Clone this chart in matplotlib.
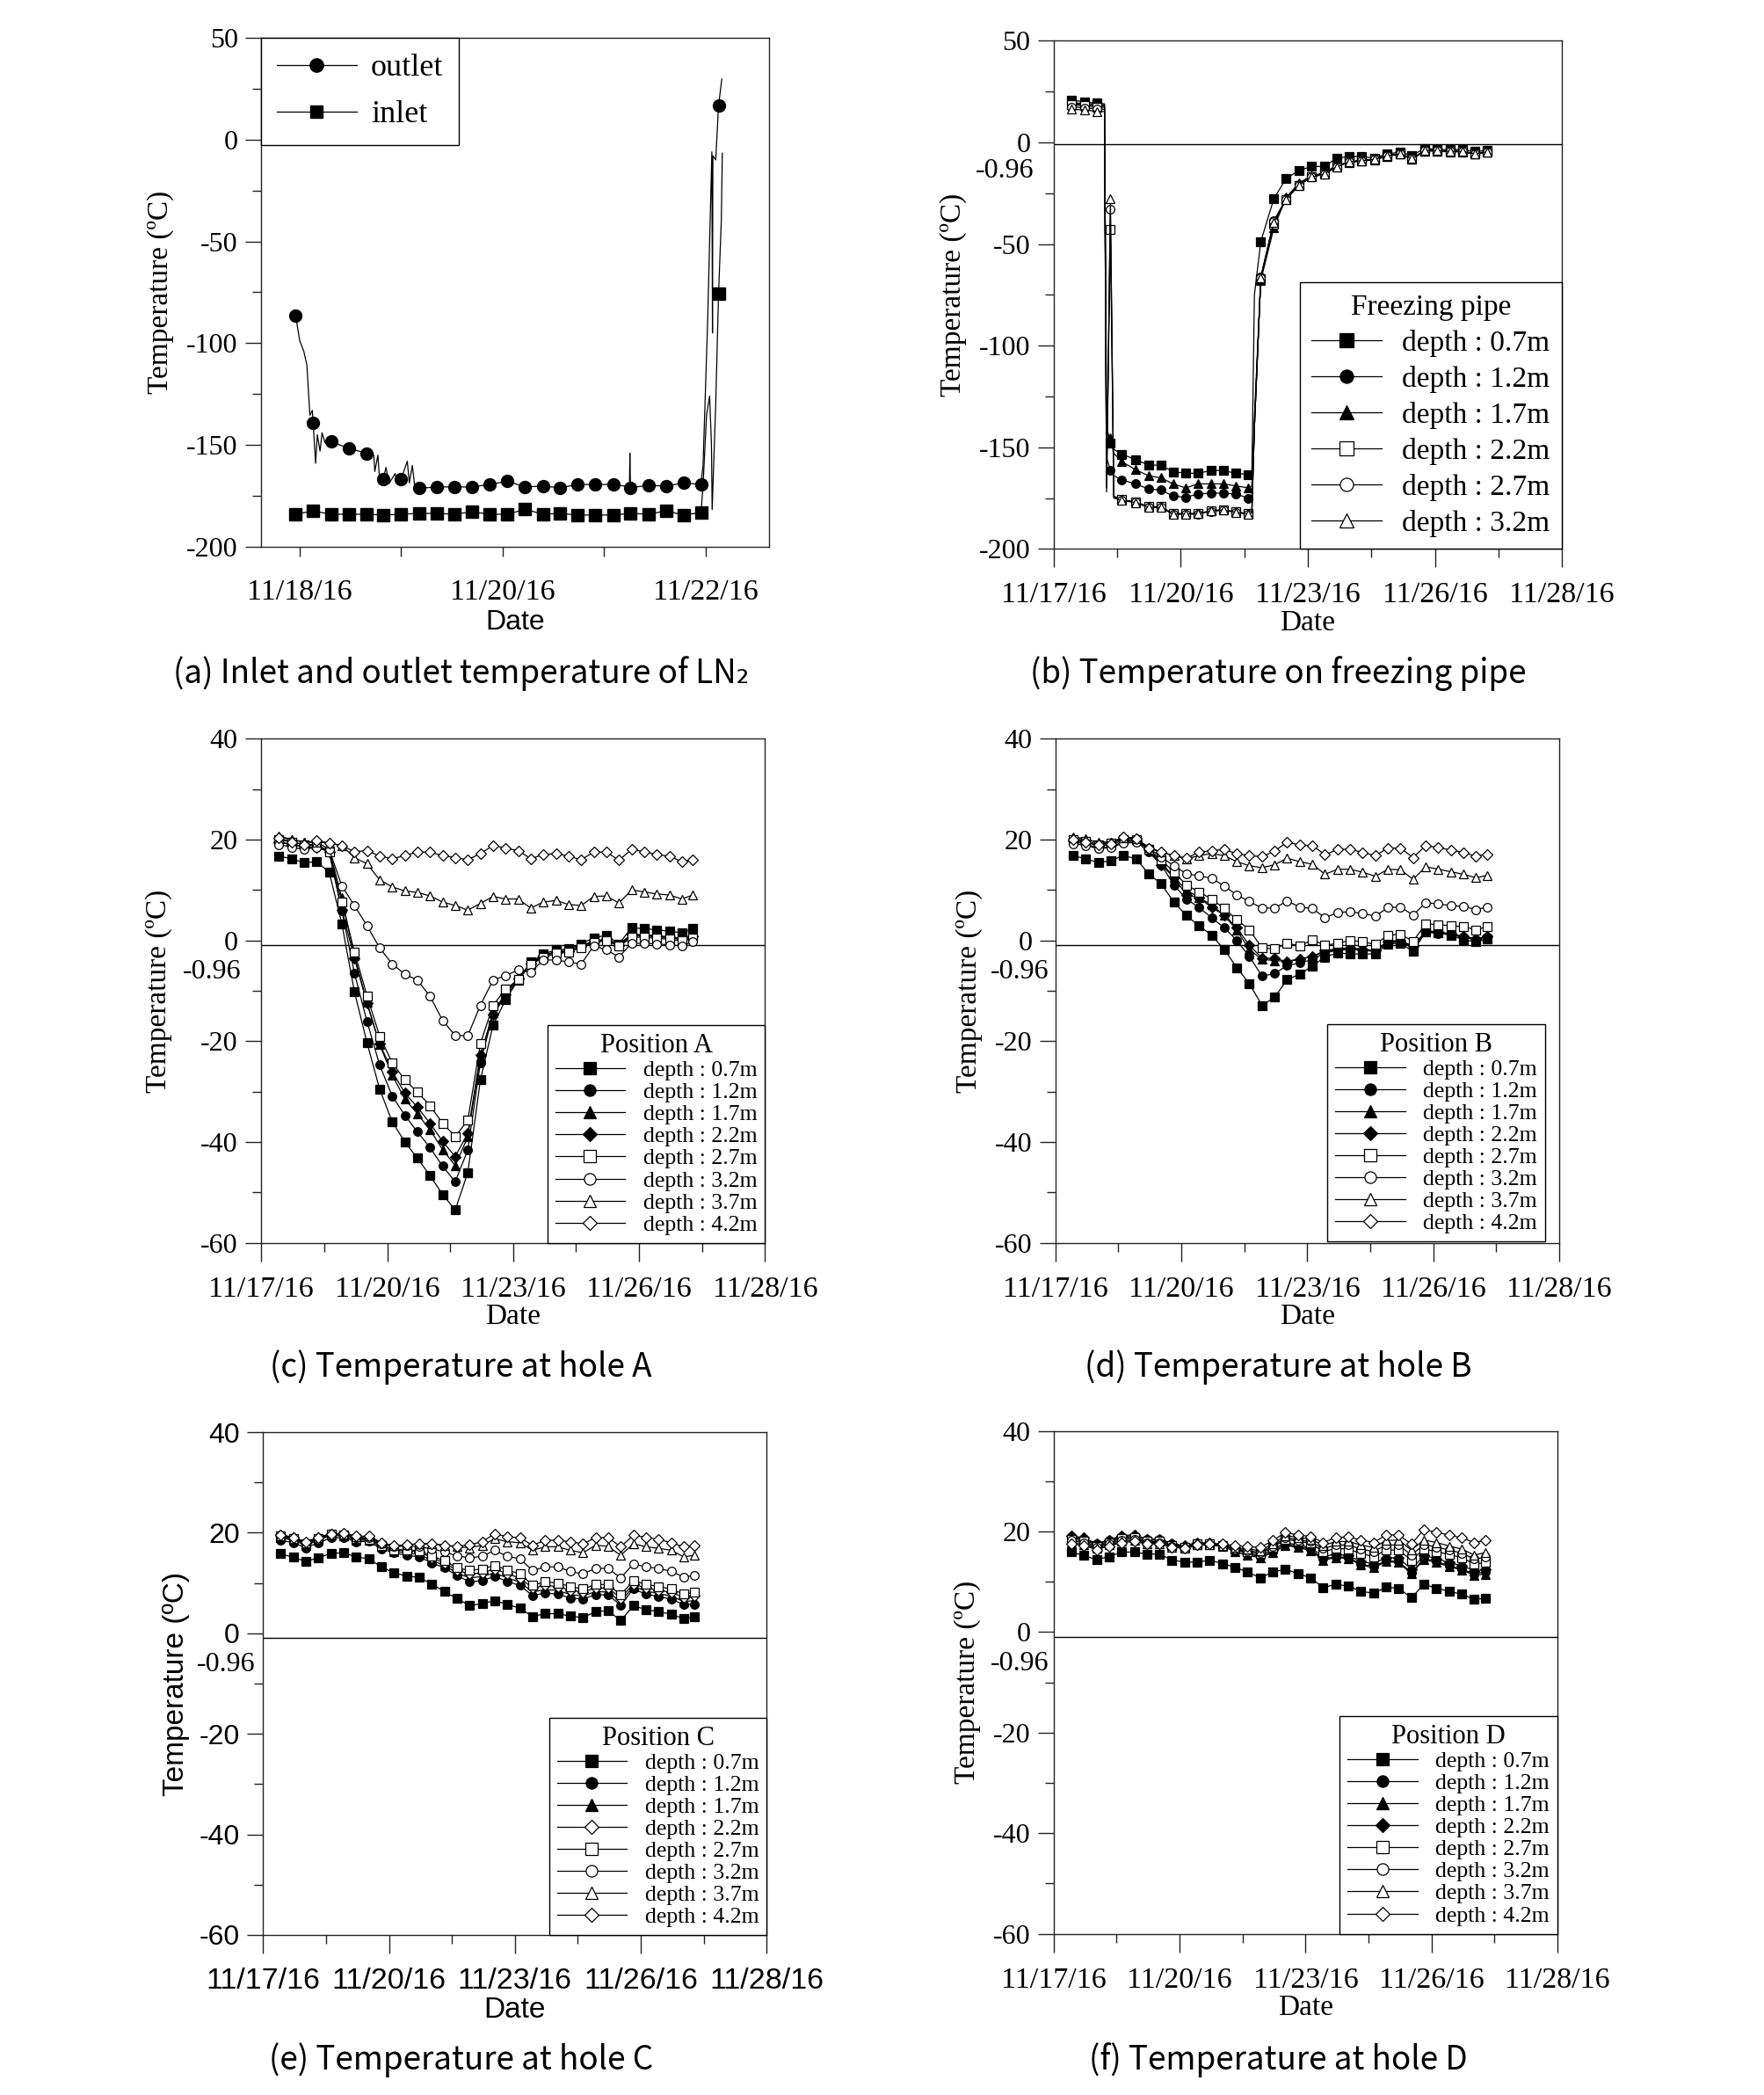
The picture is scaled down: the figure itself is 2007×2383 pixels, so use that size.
import numpy as np
import matplotlib
matplotlib.use("Agg")
import matplotlib.pyplot as plt
from matplotlib.ticker import MultipleLocator, FixedLocator
from matplotlib.lines import Line2D

plt.rcParams['font.family'] = ['Liberation Serif', 'DejaVu Serif']
plt.rcParams['axes.unicode_minus'] = False

SERIF = ['Liberation Serif', 'DejaVu Serif']
SANS = ['Liberation Sans', 'DejaVu Sans']
CAPTION = ['Noto Sans CJK KR', 'DejaVu Sans']

# ---------------- (a) LN2 inlet / outlet (days since 11/17/16) ----------------
mark_t = [0.959, 1.132, 1.309, 1.482, 1.659, 1.824, 2.0, 2.174, 2.355, 2.524, 2.697, 2.87,
          3.047, 3.22, 3.40, 3.566, 3.74, 3.91, 4.09, 4.26, 4.435, 4.61, 4.785, 4.955, 5.128]
outlet_v = [-86.4, -139.3, -148.4, -151.6, -154.1, -166.6, -166.6, -171.3, -170.6, -170.6, -170.6,
            -169.4, -167.8, -170.6, -170.2, -171, -169.4, -169.4, -169.4, -171, -169.8, -170.2,
            -168.6, -169.4, 16.8]
inlet_v = [-184, -182.4, -184, -184, -184, -184.4, -184, -183.6, -183.6, -184, -182.8, -184, -184,
           -181.6, -184, -183.6, -184.4, -184.4, -184.4, -183.6, -184, -182.4, -184.4, -183.2, -75.5]
# raw logger trace between the markers
outlet_line_t = [0.959, 1.0, 1.04, 1.07, 1.10, 1.124, 1.132, 1.156, 1.173, 1.20, 1.22, 1.25, 1.309,
                 1.482, 1.659, 1.73, 1.74, 1.77, 1.79, 1.824, 1.85, 1.88, 1.94, 1.96, 2.0, 2.06,
                 2.08, 2.11, 2.13, 2.174, 2.355, 2.524, 2.697, 2.87, 3.047, 3.22, 3.40, 3.566,
                 3.74, 3.91, 4.09, 4.25, 4.254, 4.26, 4.435, 4.61, 4.785, 4.955, 4.975, 5.02,
                 5.062, 5.068, 5.072, 5.10, 5.128, 5.16]
outlet_line_v = [-86.4, -98.8, -104, -110.7, -135.4, -133, -139.3, -159, -145, -153, -144, -149,
                 -148.4, -151.6, -154.1, -155, -163, -155, -169, -166.6, -161, -169, -164, -168,
                 -166.6, -158, -168.6, -160, -169, -171.3, -170.6, -170.6, -170.6, -169.4, -167.8,
                 -170.6, -170.2, -171, -169.4, -169.4, -169.4, -170.5, -154, -171, -169.8, -170.2,
                 -168.6, -169.4, -160, -90, -6, -95, -8, -10, 16.8, 29.7]
inlet_line_t = mark_t[:24] + [4.975, 5.01, 5.04, 5.058, 5.065, 5.10, 5.128, 5.155, 5.165]
inlet_line_v = inlet_v[:24] + [-170, -135, -126, -150, -181.7, -130, -75.5, -40, -6.7]

# ---------------- (b) freezing pipe ----------------
pipe_t = [0.43, 0.74, 1.03, 1.20, 1.25, 1.34, 1.42, 1.61, 1.93, 2.24, 2.53, 2.82, 3.12, 3.41,
          3.72, 4.00, 4.30, 4.60, 4.68, 4.74, 4.89, 5.20, 5.49, 5.79, 6.09, 6.39, 6.68, 6.98,
          7.27, 7.58, 7.87, 8.17, 8.46, 8.77, 9.06, 9.36, 9.65, 9.95, 10.24]
pipe_line_only = [1.20, 1.25, 1.42, 4.68, 4.74]
pipe_07 = [20.9, 19.9, 19.3, 19.0, -140, -148, -151, -153.4, -156, -158.8, -158.8, -162, -162.8,
           -162.8, -161.4, -161.4, -162.8, -163.4, -163, -75, -48.8, -27.6, -17.7, -13.8, -11.8,
           -11.8, -7.8, -6.9, -6.9, -7.8, -5.5, -4.9, -6.3, -2.9, -3.5, -3.5, -3.5, -4.5, -3.9]
pipe_12 = [19.5, 19.2, 18.8, 18.6, -155, -161.4, -164, -166, -168, -170.5, -171, -174, -174.6,
           -173, -172.6, -172.6, -173, -175, -174, -140, -66.3, -38.5, -27.6, -20.7, -16.8,
           -15.4, -11.8, -9.4, -8.8, -8.2, -6.5, -5.5, -7.8, -3.9, -3.9, -4.3, -4.3, -5.5, -4.5]
pipe_17 = [19.0, 18.6, 18.2, 18.0, -150, -145.5, -153, -157, -161, -164, -165, -168, -170, -168,
           -168, -168, -169, -170, -169, -135, -68, -42, -27, -20, -16.3, -15, -11.2, -9.8,
           -9.2, -8.5, -6.8, -5.8, -8.2, -4.2, -4.2, -4.6, -4.6, -5.8, -4.8]
pipe_22 = [18.5, 18.0, 17.5, 17.3, -168, -43, -174, -175.8, -176.8, -179.2, -179.2, -182.6,
           -182.6, -182.6, -181.2, -180.6, -181.8, -182.6, -182, -140, -67, -40, -28, -21, -17,
           -15.6, -12, -9.6, -9, -8.4, -6.7, -5.7, -8, -4.1, -4.1, -4.5, -4.5, -5.7, -4.7]
pipe_27 = [17.5, 17.0, 16.5, 16.3, -170, -33, -174.5, -176, -177, -179.5, -179.5, -183, -183,
           -182.8, -181.5, -181, -182, -183, -182, -140, -66.5, -39, -28, -21, -17, -15.5, -12,
           -9.5, -9, -8.3, -6.6, -5.6, -7.9, -4, -4, -4.4, -4.4, -5.6, -4.6]
pipe_32 = [16.3, 16.0, 15.3, 15.2, -172, -27.6, -175, -176.2, -177.2, -179.6, -179.6, -182.8,
           -182.8, -182.6, -181.4, -180.8, -182, -182.8, -182, -140, -66.8, -39.5, -28, -21, -17,
           -15.5, -12, -9.5, -9, -8.3, -6.6, -5.6, -7.9, -4, -4, -4.4, -4.4, -5.6, -4.6]

# ---------------- (c)-(f) holes A-D ----------------
hole_t = [0.42, 0.72, 1.02, 1.32, 1.62, 1.92, 2.22, 2.52, 2.82, 3.12, 3.42, 3.72, 4.02, 4.32,
          4.62, 4.92, 5.22, 5.52, 5.82, 6.12, 6.42, 6.72, 7.02, 7.32, 7.62, 7.92, 8.22, 8.52,
          8.82, 9.12, 9.42, 9.72, 10.02, 10.28]

a07 = [16.7, 16.2, 15.4, 15.6, 13.5, 3.3, -10.2, -20.3, -29.5, -36.0, -40.0, -43.2, -46.7, -50.4, -53.5, -46.1, -27.7, -16.9, -11.8, -7.9, -4.3, -2.7, -1.9, -1.7, -0.7, 0.5, 1.0, -0.7, 2.5, 2.3, 2.1, 1.8, 1.5, 2.3]
a12 = [19.5, 19.0, 18.6, 19.0, 17.5, 5.9, -6.5, -16.1, -24.7, -30.9, -34.7, -38.0, -41.1, -44.8, -47.9, -41.6, -24.3, -14.7, -11.1, -7.9, -4.7, -3.1, -2.3, -2.1, -1.1, -0.3, 0.1, -1.1, 0.9, 0.9, 0.7, 0.5, 0.2, 0.7]
a17 = [20.5, 20.0, 19.5, 19.5, 18.0, 8.4, -3.1, -12.3, -20.7, -26.7, -31.5, -34.4, -37.6, -41.5, -44.7, -39.0, -23.1, -14.3, -10.5, -7.5, -4.5, -3.0, -2.2, -2.0, -1.0, -0.2, 0.3, -0.8, 1.2, 1.1, 0.9, 0.7, 0.4, 0.9]
a22 = [19.5, 19.0, 18.5, 18.5, 17.5, 6.0, -3.5, -12.5, -20.5, -26.0, -30.3, -33.1, -36.3, -39.9, -42.9, -38.3, -22.7, -14.7, -10.7, -7.6, -4.6, -3.1, -2.3, -2.1, -1.1, -0.3, 0.2, -0.9, 1.1, 1.0, 0.8, 0.6, 0.3, 0.8]
a27 = [20.0, 19.5, 19.0, 19.0, 17.5, 7.6, -2.3, -11.0, -19.0, -24.3, -27.7, -30.1, -32.8, -36.3, -38.9, -35.7, -20.5, -12.9, -9.7, -7.8, -4.8, -3.4, -2.6, -2.4, -1.4, -0.5, 0.0, -1.2, 0.6, 0.6, 0.4, 0.2, -0.1, 0.4]
a32 = [19.0, 18.5, 18.0, 18.5, 18.0, 10.8, 6.9, 2.9, -1.5, -4.7, -6.7, -7.9, -11.1, -15.9, -18.9, -18.9, -12.9, -7.9, -7.0, -5.9, -6.3, -3.9, -3.9, -4.3, -4.7, -1.1, -1.9, -3.3, -0.6, -0.6, -0.7, -0.9, -1.1, -0.3]
a37 = [20.7, 20.0, 19.5, 19.5, 19.3, 18.8, 16.4, 15.2, 12.0, 10.6, 9.8, 9.5, 8.8, 7.6, 6.9, 6.0, 7.3, 8.7, 8.2, 8.2, 6.4, 7.6, 7.9, 7.1, 6.9, 8.7, 8.8, 7.4, 10.0, 9.6, 9.2, 9.0, 8.2, 9.0]
a42 = [20.3, 19.5, 19.0, 19.8, 19.3, 18.8, 17.6, 17.8, 16.7, 16.2, 16.8, 17.5, 17.5, 16.8, 16.4, 16.0, 17.2, 18.8, 18.3, 17.8, 16.2, 17.0, 17.2, 16.7, 16.0, 17.5, 17.5, 15.9, 18.0, 17.6, 17.0, 16.7, 15.6, 16.0]

b07 = [16.8, 16.2, 15.4, 15.8, 16.8, 16.2, 13.2, 11.2, 7.6, 4.9, 2.9, 1.0, -1.8, -5.4, -8.6, -12.9, -11.3, -7.8, -6.7, -5.1, -3.3, -2.5, -2.7, -2.7, -2.7, -0.7, -0.6, -2.2, 1.7, 1.5, 1.0, 0.1, -0.3, 0.2]
b12 = [19.5, 19.2, 18.2, 18.6, 19.5, 19.7, 17.5, 15.0, 11.0, 8.2, 6.5, 4.5, 2.5, 0.0, -3.2, -7.1, -6.6, -5.0, -4.5, -3.8, -2.5, -2.0, -1.8, -2.0, -2.2, -0.5, -0.3, -1.5, 1.6, 1.4, 1.1, 0.6, 0.1, 0.5]
b17 = [20.5, 20.2, 19.3, 19.4, 20.5, 20.3, 18.0, 15.5, 12.5, 10.0, 8.5, 7.0, 5.0, 2.0, -1.8, -3.8, -4.0, -4.2, -3.6, -3.3, -2.2, -1.9, -1.6, -1.8, -2.0, -0.3, -0.1, -1.3, 1.8, 1.6, 1.2, 0.7, 0.2, 0.7]
b22 = [19.8, 19.5, 18.7, 19.0, 19.8, 19.8, 18.0, 15.0, 12.5, 9.0, 8.5, 6.5, 5.0, 2.5, -1.0, -3.5, -3.6, -4.2, -3.8, -3.2, -2.0, -1.7, -1.5, -1.8, -2.0, -0.2, 0.0, -1.2, 1.9, 1.7, 1.3, 0.8, 0.3, 0.8]
b27 = [20.0, 19.7, 19.0, 19.3, 20.0, 20.0, 18.0, 16.0, 13.5, 11.0, 9.6, 8.2, 6.3, 4.1, 2.1, -1.5, -1.7, -0.6, -1.1, 0.1, -1.0, -0.6, 0.0, -0.3, -0.8, 1.0, 1.2, -0.2, 3.3, 3.1, 2.9, 2.7, 2.1, 2.7]
b32 = [19.2, 18.8, 18.2, 18.4, 19.3, 19.4, 18.3, 16.5, 14.8, 13.2, 12.8, 12.3, 10.8, 9.0, 7.7, 6.4, 6.4, 7.8, 6.6, 6.3, 4.5, 5.5, 5.7, 5.3, 4.8, 6.5, 6.6, 5.0, 7.5, 7.2, 6.9, 6.7, 6.1, 6.6]
b37 = [20.3, 20.0, 19.5, 19.5, 20.3, 20.2, 18.5, 17.5, 16.8, 16.2, 16.8, 17.2, 16.8, 15.6, 14.8, 14.4, 15.0, 16.3, 15.6, 15.1, 13.1, 14.1, 14.1, 13.5, 12.7, 14.1, 14.0, 12.1, 14.6, 14.1, 13.6, 13.1, 12.4, 12.9]
b42 = [20.0, 19.5, 19.0, 19.2, 20.5, 20.2, 18.3, 17.5, 16.8, 16.3, 17.5, 17.8, 18.0, 17.2, 16.8, 16.6, 17.7, 19.5, 18.9, 18.8, 17.0, 18.0, 18.1, 17.4, 16.8, 18.3, 18.3, 16.4, 18.8, 18.4, 17.9, 17.4, 16.7, 17.1]

c07 = [15.8, 15.1, 14.3, 15.0, 15.9, 16.0, 15.2, 14.8, 13.2, 12.0, 11.4, 11.1, 9.8, 8.3, 6.9, 5.5, 5.9, 6.5, 5.7, 5.0, 3.3, 3.9, 3.9, 3.4, 3.1, 4.3, 4.5, 2.5, 5.5, 4.7, 4.3, 3.8, 2.9, 3.3]
c12 = [18.5, 18.0, 17.0, 18.0, 19.0, 19.0, 18.2, 18.3, 16.8, 16.0, 15.5, 15.2, 14.0, 13.0, 11.5, 10.2, 10.5, 11.3, 10.3, 9.5, 7.5, 8.0, 7.8, 7.0, 6.8, 7.7, 7.6, 5.6, 8.8, 7.8, 7.3, 6.8, 5.7, 5.8]
c17 = [19.0, 18.5, 17.5, 18.5, 19.5, 19.3, 18.5, 18.5, 17.2, 16.3, 16.0, 15.7, 14.5, 13.5, 12.0, 11.0, 11.3, 12.0, 11.0, 10.2, 8.2, 8.7, 8.5, 7.7, 7.4, 8.3, 8.2, 6.3, 9.3, 8.4, 7.9, 7.4, 6.3, 6.5]
c22 = [19.5, 19.0, 18.0, 19.0, 19.8, 19.7, 19.0, 18.8, 17.5, 16.6, 16.4, 16.2, 15.0, 14.0, 12.5, 11.8, 12.0, 12.8, 11.8, 11.0, 9.0, 9.5, 9.3, 8.5, 8.2, 9.0, 9.0, 7.0, 9.8, 9.0, 8.6, 8.1, 7.2, 7.5]
c27 = [19.3, 18.8, 17.8, 18.8, 19.7, 19.6, 18.8, 18.7, 17.5, 16.6, 16.6, 16.4, 15.4, 14.4, 13.0, 12.5, 12.8, 13.5, 12.6, 11.8, 9.6, 10.2, 10.0, 9.3, 8.8, 9.7, 9.7, 7.6, 10.5, 9.7, 9.3, 8.8, 7.8, 8.1]
c32 = [19.2, 18.7, 17.8, 18.7, 19.6, 19.6, 19.0, 19.0, 17.8, 17.2, 17.4, 17.2, 16.8, 16.2, 15.4, 15.0, 15.3, 16.5, 15.3, 14.8, 12.5, 13.2, 13.2, 12.3, 11.8, 12.9, 12.9, 11.0, 13.8, 13.2, 12.9, 12.3, 11.2, 11.5]
c37 = [19.4, 18.9, 18.0, 19.0, 19.7, 19.8, 19.2, 19.3, 18.0, 17.4, 17.6, 17.8, 17.8, 17.5, 17.2, 17.0, 17.5, 18.8, 18.2, 18.0, 16.5, 17.2, 17.2, 16.5, 16.0, 17.5, 17.3, 15.5, 17.8, 17.2, 16.9, 16.5, 15.2, 15.5]
c42 = [19.6, 19.1, 18.2, 19.1, 19.8, 19.9, 19.3, 19.3, 18.0, 17.4, 17.6, 17.8, 17.8, 17.5, 17.3, 17.6, 18.2, 19.8, 19.2, 19.0, 17.5, 18.5, 18.5, 18.2, 17.8, 19.0, 19.0, 17.2, 19.5, 19.1, 18.7, 18.0, 17.2, 17.5]

d07 = [15.9, 15.2, 14.4, 15.0, 15.9, 15.9, 15.5, 15.5, 14.3, 13.9, 13.9, 14.3, 13.6, 12.9, 11.9, 10.8, 11.9, 12.5, 11.6, 10.8, 8.8, 9.5, 9.1, 8.1, 7.7, 8.9, 8.7, 6.8, 9.5, 8.7, 8.1, 7.5, 6.5, 6.7]
d12 = [19.0, 18.5, 17.5, 18.2, 19.0, 19.2, 18.5, 18.5, 17.5, 17.0, 17.6, 17.5, 17.3, 16.5, 15.5, 15.0, 16.0, 17.5, 17.0, 16.5, 14.5, 15.0, 14.8, 13.5, 13.0, 14.2, 14.0, 11.8, 14.6, 14.0, 13.2, 12.5, 11.5, 12.0]
d17 = [18.8, 18.3, 17.3, 18.0, 18.8, 19.0, 18.3, 18.3, 17.3, 16.8, 17.4, 17.3, 17.0, 16.0, 15.2, 14.8, 15.8, 17.2, 16.8, 16.2, 14.3, 14.8, 14.6, 13.3, 12.8, 14.0, 13.8, 11.6, 14.4, 13.8, 13.0, 12.3, 11.3, 11.5]
d22 = [19.2, 18.7, 17.6, 18.3, 19.2, 19.3, 18.5, 18.5, 17.6, 17.2, 17.8, 17.7, 17.4, 16.7, 15.7, 15.2, 16.4, 17.8, 17.3, 16.8, 15.0, 15.5, 15.2, 14.0, 13.6, 14.8, 14.7, 12.5, 15.2, 14.6, 13.8, 13.2, 12.2, 12.4]
d27 = [18.5, 18.0, 17.0, 17.8, 18.6, 18.7, 18.0, 18.0, 17.2, 16.8, 17.5, 17.5, 17.2, 16.5, 16.0, 15.6, 16.8, 18.5, 18.0, 17.7, 16.0, 16.6, 16.5, 15.6, 15.0, 16.3, 16.3, 14.3, 16.5, 16.0, 15.4, 14.8, 13.5, 13.8]
d32 = [18.2, 17.7, 16.8, 17.5, 18.3, 18.5, 17.8, 17.8, 17.0, 16.6, 17.3, 17.3, 17.1, 16.5, 16.2, 15.8, 17.1, 18.8, 18.3, 18.0, 16.6, 17.3, 17.3, 16.5, 16.0, 17.3, 17.3, 15.3, 17.4, 16.9, 16.3, 15.7, 14.5, 14.9]
d37 = [17.8, 17.4, 16.6, 17.3, 18.0, 18.2, 17.6, 17.6, 16.9, 16.6, 17.3, 17.4, 17.2, 16.8, 16.5, 16.2, 17.5, 19.2, 18.8, 18.5, 17.2, 18.0, 18.0, 17.3, 16.8, 18.2, 18.3, 16.3, 18.3, 17.8, 17.1, 16.5, 15.3, 15.8]
d42 = [17.5, 17.2, 16.4, 17.1, 17.8, 18.0, 17.5, 17.5, 16.9, 16.7, 17.4, 17.6, 17.5, 17.2, 17.0, 16.8, 18.2, 19.8, 19.3, 19.0, 17.8, 18.8, 18.9, 18.3, 17.8, 19.3, 19.3, 17.5, 20.4, 19.8, 19.3, 18.7, 17.8, 18.2]

depth_labels = ['depth : 0.7m', 'depth : 1.2m', 'depth : 1.7m', 'depth : 2.2m',
                'depth : 2.7m', 'depth : 3.2m', 'depth : 3.7m', 'depth : 4.2m']
date_ticks = [0, 3, 6, 9, 12]
date_labels = ['11/17/16', '11/20/16', '11/23/16', '11/26/16', '11/28/16']

# marker, filled?
styles_std = [('s', True), ('o', True), ('^', True), ('D', True),
              ('s', False), ('o', False), ('^', False), ('D', False)]
styles_c = [('s', True), ('o', True), ('^', True), ('D', False),
            ('s', False), ('o', False), ('^', False), ('D', False)]

YLABEL = 'Temperature (\u00baC)'


def frame(ax, family, xlen=15, xpad=12):
    for sp in ax.spines.values():
        sp.set_linewidth(1.0)
        sp.set_color('#222222')
    ax.tick_params(which='both', direction='out', width=1, color='#222222',
                   labelfontfamily=family[0])
    ax.tick_params(axis='y', which='major', length=13, pad=6, labelsize=23)
    ax.tick_params(axis='y', which='minor', length=7)
    ax.tick_params(axis='x', which='major', length=xlen, pad=xpad, labelsize=24.5)
    ax.tick_params(axis='x', which='minor', length=7)


def mark_kw(mk, filled, ms):
    size = ms * 0.85 if mk == 'D' else ms
    return dict(marker=mk, ms=size, mfc='k' if filled else 'white', mec='k', mew=0.9)


def date_axis(ax, ylim, ymaj, ymin, lab_dx):
    ax.set_xlim(0, 12)
    ax.xaxis.set_major_locator(FixedLocator(date_ticks))
    ax.set_xticklabels(date_labels)
    ax.xaxis.set_minor_locator(MultipleLocator(1.5))
    ax.set_ylim(*ylim)
    ax.yaxis.set_major_locator(MultipleLocator(ymaj))
    ax.yaxis.set_minor_locator(MultipleLocator(ymin))
    ax.axhline(-0.96, color='k', lw=1.0, zorder=1)
    ax.annotate('-0.96', xy=(0, -0.96), xycoords=('axes fraction', 'data'),
                xytext=(lab_dx, -22), textcoords='offset points', ha='right', va='center',
                fontsize=23, family=SERIF)


def hole_panel(ax, series, title, styles, family=SERIF, anchor=(1.0, 0.0),
               lab_dx=-6, ylab_x=-0.145):
    for vals, (mk, filled), lab in zip(series, styles, depth_labels):
        ax.plot(hole_t, vals, color='k', lw=0.9, label=lab, **mark_kw(mk, filled, 7))
    date_axis(ax, (-60, 40), 20, 10, lab_dx)
    frame(ax, family)
    ax.set_ylabel(YLABEL, fontsize=24, family=family)
    ax.yaxis.set_label_coords(ylab_x, 0.5)
    ax.set_xlabel('Date', fontsize=24, family=family, labelpad=1)
    leg = ax.legend(loc='lower right', bbox_to_anchor=anchor, borderaxespad=0.0,
                    title=title, title_fontproperties={'family': SERIF[0], 'size': 22},
                    prop={'family': SERIF[0], 'size': 18.5}, frameon=True, fancybox=False,
                    edgecolor='k', framealpha=1, handlelength=3.1, handletextpad=0.8,
                    labelspacing=0.08, borderpad=0.35, markerscale=1.35)
    leg.get_frame().set_linewidth(1.0)


fig = plt.figure(figsize=(20.08, 23.83), dpi=100)

# ---------------- (a) ----------------
ax = fig.add_axes([0.148, 0.739, 0.288, 0.243])
ax.plot(outlet_line_t, outlet_line_v, color='k', lw=0.9)
ax.plot(inlet_line_t, inlet_line_v, color='k', lw=0.9)
ax.plot(mark_t, outlet_v, ls='none', marker='o', ms=10, color='k')
ax.plot(mark_t, inlet_v, ls='none', marker='s', ms=9.5, color='k')
ax.set_xlim(0.62, 5.63)
ax.xaxis.set_major_locator(FixedLocator([1, 3, 5]))
ax.set_xticklabels(['11/18/16', '11/20/16', '11/22/16'])
ax.xaxis.set_minor_locator(MultipleLocator(1))
ax.set_ylim(-200, 50)
ax.yaxis.set_major_locator(MultipleLocator(50))
ax.yaxis.set_minor_locator(MultipleLocator(25))
frame(ax, SERIF, xlen=8, xpad=18)
ax.tick_params(axis='x', which='minor', length=8)
ax.set_ylabel(YLABEL, fontsize=24)
ax.yaxis.set_label_coords(-0.171, 0.5)
ax.set_xlabel('Date', fontsize=23, family=SANS, labelpad=3)
handles = [Line2D([], [], color='k', lw=0.9, marker='o', ms=11),
           Line2D([], [], color='k', lw=0.9, marker='s', ms=10.5)]
leg = ax.legend(handles, ['outlet', 'inlet'], loc='upper left', borderaxespad=0.0,
                prop={'family': SERIF[0], 'size': 26}, frameon=True, fancybox=False,
                edgecolor='k', framealpha=1, handlelength=2.5, handletextpad=0.45,
                labelspacing=0.55, borderpad=0.5)
leg.get_frame().set_linewidth(1.0)

# ---------------- (b) ----------------
ax = fig.add_axes([0.597, 0.738, 0.288, 0.2425])
pipe_series = [pipe_07, pipe_12, pipe_17, pipe_22, pipe_27, pipe_32]
marks_at = [i for i, t in enumerate(pipe_t) if t not in pipe_line_only]
for vals, (mk, filled), lab in zip(pipe_series, styles_std[:3] + styles_std[4:7], depth_labels[:6]):
    ax.plot(pipe_t, vals, color='k', lw=0.9, label=lab, markevery=marks_at,
            **mark_kw(mk, filled, 7))
date_axis(ax, (-200, 50), 50, 25, -16)
frame(ax, SERIF)
ax.set_ylabel(YLABEL, fontsize=24)
ax.yaxis.set_label_coords(-0.171, 0.5)
ax.set_xlabel('Date', fontsize=24, labelpad=1)
leg = ax.legend(loc='lower right', borderaxespad=0.0, title='Freezing pipe',
                title_fontproperties={'family': SERIF[0], 'size': 24},
                prop={'family': SERIF[0], 'size': 24}, frameon=True, fancybox=False,
                edgecolor='k', framealpha=1, handlelength=2.4, handletextpad=0.7,
                labelspacing=0.3, borderpad=0.4, markerscale=1.55)
leg.get_frame().set_linewidth(1.0)

# ---------------- (c)-(f) ----------------
ax = fig.add_axes([0.148, 0.4068, 0.2855, 0.2406])
hole_panel(ax, [a07, a12, a17, a22, a27, a32, a37, a42], 'Position A', styles_std,
           lab_dx=-16, ylab_x=-0.176)
ax = fig.add_axes([0.598, 0.4068, 0.2855, 0.2406])
hole_panel(ax, [b07, b12, b17, b22, b27, b32, b37, b42], 'Position B', styles_std,
           anchor=(0.972, 0.003), lab_dx=-5)
ax = fig.add_axes([0.149, 0.0764, 0.2855, 0.24])
hole_panel(ax, [c07, c12, c17, c22, c27, c32, c37, c42], 'Position C', styles_c,
           family=SANS, lab_dx=-6)
ax = fig.add_axes([0.597, 0.077, 0.2855, 0.24])
hole_panel(ax, [d07, d12, d17, d22, d27, d32, d37, d42], 'Position D', styles_std,
           lab_dx=-4)

# ---------------- captions ----------------
captions = [(0.2613, 0.6786, '(a) Inlet and outlet temperature of LN\u2082'),
            (0.7243, 0.6786, '(b) Temperature on freezing pipe'),
            (0.2613, 0.3475, '(c) Temperature at hole A'),
            (0.7243, 0.3475, '(d) Temperature at hole B'),
            (0.2613, 0.0166, '(e) Temperature at hole C'),
            (0.7243, 0.0166, '(f) Temperature at hole D')]
for x, y, s in captions:
    fig.text(x, y, s, ha='center', va='center', fontsize=26.5, family=CAPTION)

fig.savefig('out.png', dpi=100)
